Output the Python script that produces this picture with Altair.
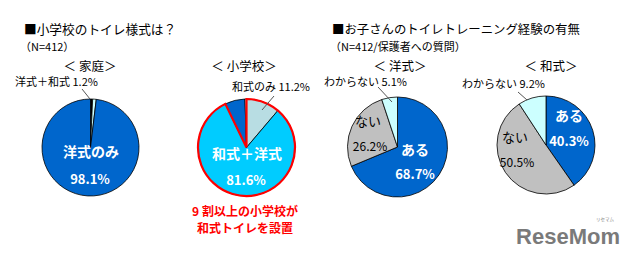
import altair as alt
import pandas as pd

# ---- data ----
home_cats = ["無回答", "洋式＋和式", "洋式のみ"]
home_vals = [0.7, 1.2, 98.1]
school_cats = ["和式のみ", "和式＋洋式", "洋式のみ", "無回答"]
school_vals = [11.2, 81.6, 6.7, 0.5]
west_cats = ["ある", "ない", "わからない"]
west_vals = [68.7, 26.2, 5.1]
jp_cats = ["ある", "ない", "わからない"]
jp_vals = [40.3, 50.5, 9.2]

FONT = "Noto Sans CJK JP"
BLUE = "#0066CC"
CYAN = "#00CCFF"
PALE = "#CCFFFF"
GRAYB = "#B8DDE3"
GRAY = "#C0C0C0"


def pie(cats, vals, colors, cx, cy, r):
    df = pd.DataFrame({"cat": cats, "val": vals, "ord": list(range(len(cats)))})
    return alt.Chart(df).mark_arc(radius=r, stroke="black", strokeWidth=0.8).encode(
        x=alt.value(cx), y=alt.value(cy),
        theta=alt.Theta("val:Q", stack=True),
        order=alt.Order("ord:Q"),
        color=alt.Color("cat:N", scale=alt.Scale(domain=cats, range=colors), legend=None),
    )


def txt(s, x, y, size=12, color="black", weight="normal", align="center", font=FONT):
    return alt.Chart(alt.Data(values=[{}])).mark_text(
        text=s, x=x, y=y, fontSize=size, color=color, fontWeight=weight,
        align=align, baseline="middle", font=font)


def rule(x1, y1, x2, y2, color="#555555"):
    return alt.Chart(alt.Data(values=[{}])).mark_rule(color=color, strokeWidth=1).encode(
        x=alt.value(x1), y=alt.value(y1), x2=alt.value(x2), y2=alt.value(y2))


p1 = pie(home_cats, home_vals, ["black", PALE, BLUE], 90.5, 147.5, 48.5)
p2 = pie(school_cats, school_vals, [GRAYB, CYAN, BLUE, "white"], 246.5, 147.5, 48.5)
p3 = pie(west_cats, west_vals, [BLUE, GRAY, PALE], 397.5, 147, 50)
p4 = pie(jp_cats, jp_vals, [BLUE, GRAY, PALE], 546, 145, 49)

# red outline around the 和式 slices of the school pie
wa = school_vals[0] + school_vals[1]
red_df = pd.DataFrame({"g": ["和式", "他"], "v": [wa, round(100 - wa, 1)], "ord": [0, 1]})
red = alt.Chart(red_df).mark_arc(radius=48.5, fillOpacity=0, strokeWidth=2.2).encode(
    x=alt.value(246.5), y=alt.value(147.5),
    theta=alt.Theta("v:Q", stack=True),
    order=alt.Order("ord:Q"),
    stroke=alt.condition(alt.datum.g == "和式", alt.value("#FF0000"), alt.value("transparent")),
)

texts = [
    txt("■小学校のトイレ様式は？", 24, 29.5, 12.7, align="left"),
    txt("（N=412）", 20, 48, 11, align="left"),
    txt("＜ 家庭＞", 90, 67, 12.5),
    txt("＜ 小学校＞", 244, 67, 12.5),
    txt(f"{home_cats[1]} {home_vals[1]}%", 15, 83, 11, align="left"),
    txt(f"{school_cats[0]} {school_vals[0]}%", 232, 88, 11, align="left"),
    txt(home_cats[2], 91, 153, 14, "white", "bold"),
    txt(f"{home_vals[2]}%", 90, 180, 13, "white", "bold"),
    txt(school_cats[1], 247, 155, 14, "white", "bold"),
    txt(f"{school_vals[1]}%", 246, 181, 13, "white", "bold"),
    txt("9 割以上の小学校が", 245, 212, 12, "#FF0000", "bold"),
    txt("和式トイレを設置", 245, 229, 12, "#FF0000", "bold"),
    txt("■お子さんのトイレトレーニング経験の有無", 332, 29.5, 12.4, align="left"),
    txt("（N=412/保護者への質問）", 330, 48, 11, align="left"),
    txt("＜ 洋式＞", 400, 67, 12.5),
    txt("＜ 和式＞", 551, 67, 12.5),
    txt(f"{west_cats[2]} {west_vals[2]}%", 324, 83, 11, align="left"),
    txt(f"{jp_cats[2]} {jp_vals[2]}%", 462, 85, 11, align="left"),
    txt(west_cats[1], 368, 122, 13),
    txt(f"{west_vals[1]}%", 370, 147, 12),
    txt(west_cats[0], 415, 151, 14, "white", "bold"),
    txt(f"{west_vals[0]}%", 415, 175, 13, "white", "bold"),
    txt(jp_cats[0], 569, 117, 14, "white", "bold"),
    txt(f"{jp_vals[0]}%", 569, 142, 13, "white", "bold"),
    txt(jp_cats[1], 515, 138, 13),
    txt(f"{jp_vals[1]}%", 517, 163, 12),
    txt("ReseMom", 568, 237, 22, "#7A7A7A", "bold", font="Liberation Sans"),
    txt("リセマム", 605, 220, 4.5, "#888888"),
]

rules = [
    rule(82, 89, 90, 99),
    rule(274, 96, 262, 110),
    rule(378, 87, 392, 102),
    rule(518, 92, 527, 100),
]

chart = alt.layer(p1, p2, red, p3, p4, *rules, *texts).resolve_scale(
    color="independent"
).properties(width=630, height=257, padding=0, autosize="none").configure_view(stroke=None)

chart.save("out.html", embed_options={"renderer": "svg", "actions": False})
